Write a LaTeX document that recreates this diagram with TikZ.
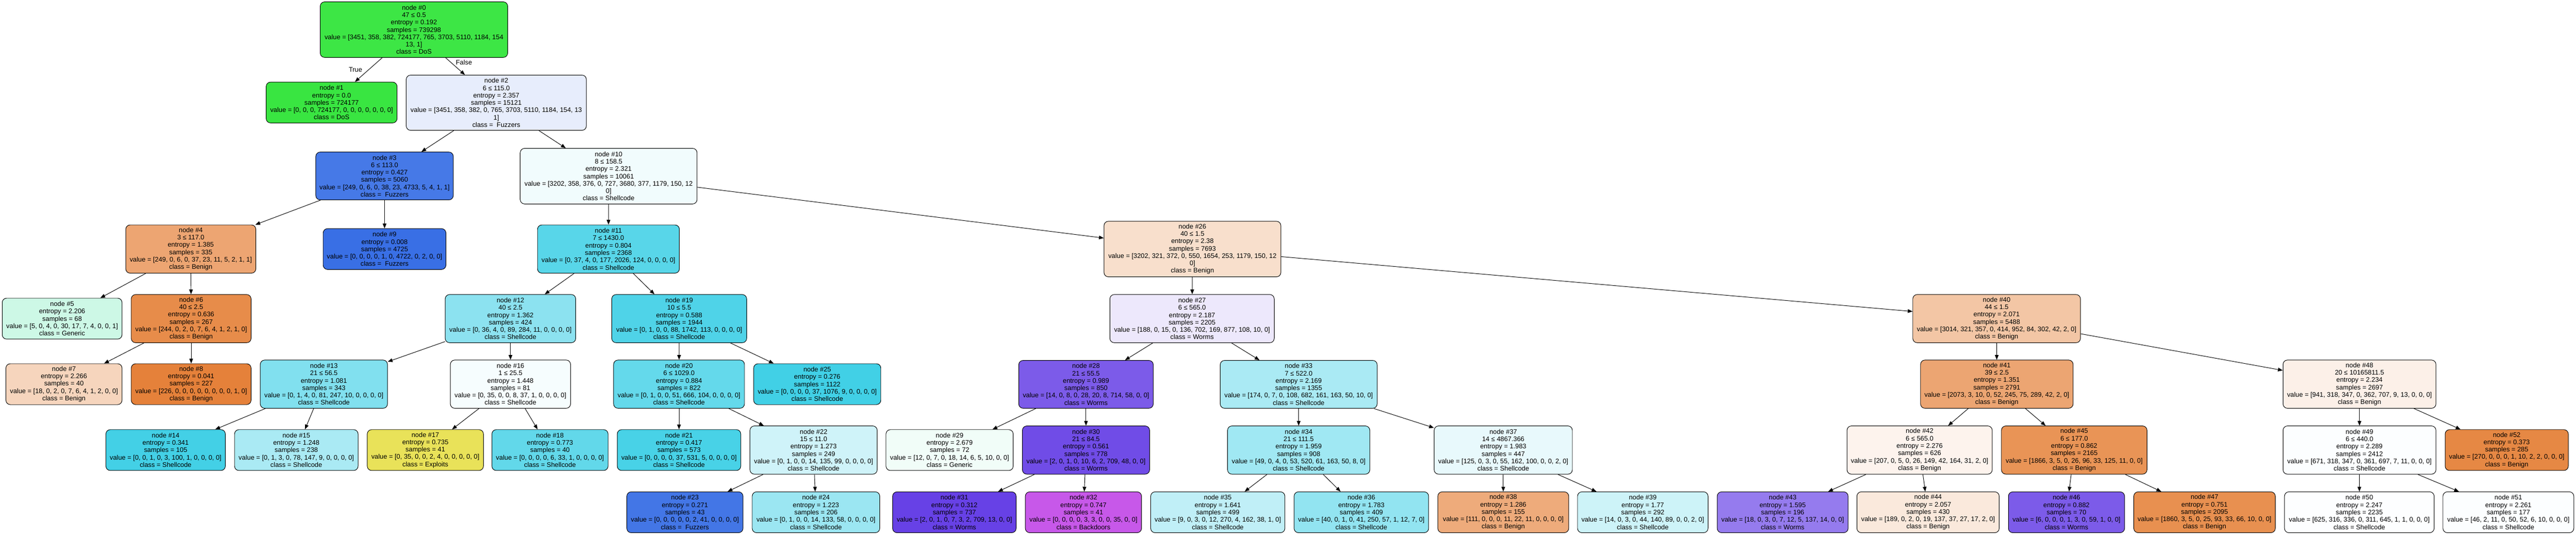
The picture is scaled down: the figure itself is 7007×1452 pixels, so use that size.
\documentclass[tikz,border=0pt]{standalone}
\usepackage{fontspec}
\setmainfont{Liberation Sans}
\usetikzlibrary{arrows.meta}
\definecolor{cBen}{RGB}{229,129,57}
\definecolor{cExp}{RGB}{229,220,57}
\definecolor{cDoS}{RGB}{57,229,65}
\definecolor{cGen}{RGB}{57,229,157}
\definecolor{cShe}{RGB}{57,206,229}
\definecolor{cFuz}{RGB}{57,111,229}
\definecolor{cWor}{RGB}{97,57,229}
\definecolor{cBac}{RGB}{189,57,229}
\newcommand\treenode[7]{\node[tbox, minimum width={#4*0.5pt}, minimum height={#5*0.5pt}, fill={#6}] (n#1) at (#2,#3) {#7};}
\begin{document}
\begin{tikzpicture}[x=0.5pt,y=-0.5pt,
  tbox/.style={draw=black, line width=0.67pt, rounded corners=6pt, inner sep=0pt, align=center, font=\fontsize{9}{10}\selectfont},
  edge/.style={draw=black, line width=0.67pt, -{Triangle[length=6.5pt,width=5pt]}},
  elab/.style={font=\fontsize{9}{10}\selectfont, inner sep=0pt}]
\fill[white] (0,0) rectangle (7007,1452);
\useasboundingbox (0,0) rectangle (7007,1452);

\treenode{0}{1126}{80.5}{510}{151}{cDoS!97.9!white}{node \#0\\47 ≤ 0.5\\entropy = 0.192\\samples = 739298\\value = [3451, 358, 382, 724177, 765, 3703, 5110, 1184, 154\\13, 1]\\class = DoS}
\treenode{1}{902}{278.5}{356}{111}{cDoS}{node \#1\\entropy = 0.0\\samples = 724177\\value = [0, 0, 0, 724177, 0, 0, 0, 0, 0, 0, 0]\\class = DoS}
\treenode{2}{1350}{279}{490}{150}{cFuz!12.3!white}{node \#2\\6 ≤ 115.0\\entropy = 2.357\\samples = 15121\\value = [3451, 358, 382, 0, 765, 3703, 5110, 1184, 154, 13\\1]\\class = \ Fuzzers}
\treenode{3}{1046}{478}{374}{130}{cFuz!93.2!white}{node \#3\\6 ≤ 113.0\\entropy = 0.427\\samples = 5060\\value = [249, 0, 6, 0, 38, 23, 4733, 5, 4, 1, 1]\\class = \ Fuzzers}
\treenode{4}{519}{676.5}{354}{131}{cBen!71.1!white}{node \#4\\3 ≤ 117.0\\entropy = 1.385\\samples = 335\\value = [249, 0, 6, 0, 37, 23, 11, 5, 2, 1, 1]\\class = Benign}
\treenode{5}{169}{865.5}{326}{111}{cGen!25.5!white}{node \#5\\entropy = 2.206\\samples = 68\\value = [5, 0, 4, 0, 30, 17, 7, 4, 0, 0, 1]\\class = Generic}
\treenode{6}{520}{865.5}{326}{131}{cBen!91.2!white}{node \#6\\40 ≤ 2.5\\entropy = 0.636\\samples = 267\\value = [244, 0, 2, 0, 7, 6, 4, 1, 2, 1, 0]\\class = Benign}
\treenode{7}{174}{1043.5}{316}{111}{cBen!33.3!white}{node \#7\\entropy = 2.266\\samples = 40\\value = [18, 0, 2, 0, 7, 6, 4, 1, 2, 0, 0]\\class = Benign}
\treenode{8}{520}{1043.5}{326}{111}{cBen!99.6!white}{node \#8\\entropy = 0.041\\samples = 227\\value = [226, 0, 0, 0, 0, 0, 0, 0, 0, 1, 0]\\class = Benign}
\treenode{9}{1046}{676.5}{334}{111}{cFuz!99.9!white}{node \#9\\entropy = 0.008\\samples = 4725\\value = [0, 0, 0, 0, 1, 0, 4722, 0, 2, 0, 0]\\class = \ Fuzzers}
\treenode{10}{1655.5}{478.5}{481}{151}{cShe!7!white}{node \#10\\8 ≤ 158.5\\entropy = 2.321\\samples = 10061\\value = [3202, 358, 376, 0, 727, 3680, 377, 1179, 150, 12\\0]\\class = Shellcode}
\treenode{11}{1655}{676.5}{386}{131}{cShe!84.4!white}{node \#11\\7 ≤ 1430.0\\entropy = 0.804\\samples = 2368\\value = [0, 37, 4, 0, 177, 2026, 124, 0, 0, 0, 0]\\class = Shellcode}
\treenode{12}{1388.5}{865.5}{355}{131}{cShe!58.2!white}{node \#12\\40 ≤ 2.5\\entropy = 1.362\\samples = 424\\value = [0, 36, 4, 0, 89, 284, 11, 0, 0, 0, 0]\\class = Shellcode}
\treenode{13}{881}{1043.5}{346}{131}{cShe!63.4!white}{node \#13\\21 ≤ 56.5\\entropy = 1.081\\samples = 343\\value = [0, 1, 4, 0, 81, 247, 10, 0, 0, 0, 0]\\class = Shellcode}
\treenode{14}{450.5}{1222.5}{325}{111}{cShe!95.1!white}{node \#14\\entropy = 0.341\\samples = 105\\value = [0, 0, 1, 0, 3, 100, 1, 0, 0, 0, 0]\\class = Shellcode}
\treenode{15}{806}{1222.5}{336}{111}{cShe!43.1!white}{node \#15\\entropy = 1.248\\samples = 238\\value = [0, 1, 3, 0, 78, 147, 9, 0, 0, 0, 0]\\class = Shellcode}
\treenode{16}{1388.5}{1043.5}{327}{131}{cShe!4.5!white}{node \#16\\1 ≤ 25.5\\entropy = 1.448\\samples = 81\\value = [0, 35, 0, 0, 8, 37, 1, 0, 0, 0, 0]\\class = Shellcode}
\treenode{17}{1157}{1222.5}{316}{111}{cExp!83.8!white}{node \#17\\entropy = 0.735\\samples = 41\\value = [0, 35, 0, 0, 2, 4, 0, 0, 0, 0, 0]\\class = Exploits}
\treenode{18}{1496}{1222.5}{316}{111}{cShe!79.4!white}{node \#18\\entropy = 0.773\\samples = 40\\value = [0, 0, 0, 0, 6, 33, 1, 0, 0, 0, 0]\\class = Shellcode}
\treenode{19}{1847.5}{865.5}{367}{131}{cShe!89!white}{node \#19\\10 ≤ 5.5\\entropy = 0.588\\samples = 1944\\value = [0, 1, 0, 0, 88, 1742, 113, 0, 0, 0, 0]\\class = Shellcode}
\treenode{20}{1847}{1043.5}{356}{131}{cShe!78.3!white}{node \#20\\6 ≤ 1029.0\\entropy = 0.884\\samples = 822\\value = [0, 1, 0, 0, 51, 666, 104, 0, 0, 0, 0]\\class = Shellcode}
\treenode{21}{1847}{1222.5}{336}{111}{cShe!92.2!white}{node \#21\\entropy = 0.417\\samples = 573\\value = [0, 0, 0, 0, 37, 531, 5, 0, 0, 0, 0]\\class = Shellcode}
\treenode{22}{2213}{1222.5}{346}{131}{cShe!24!white}{node \#22\\15 ≤ 11.0\\entropy = 1.273\\samples = 249\\value = [0, 1, 0, 0, 14, 135, 99, 0, 0, 0, 0]\\class = Shellcode}
\treenode{23}{1863}{1391.5}{316}{111}{cFuz!95.1!white}{node \#23\\entropy = 0.271\\samples = 43\\value = [0, 0, 0, 0, 0, 2, 41, 0, 0, 0, 0]\\class = \ Fuzzers}
\treenode{24}{2219.5}{1391.5}{347}{111}{cShe!50.7!white}{node \#24\\entropy = 1.223\\samples = 206\\value = [0, 1, 0, 0, 14, 133, 58, 0, 0, 0, 0]\\class = Shellcode}
\treenode{25}{2223}{1043.5}{346}{111}{cShe!95.8!white}{node \#25\\entropy = 0.276\\samples = 1122\\value = [0, 0, 0, 0, 37, 1076, 9, 0, 0, 0, 0]\\class = Shellcode}
\treenode{26}{3243.5}{676.5}{481}{151}{cBen!25.6!white}{node \#26\\40 ≤ 1.5\\entropy = 2.38\\samples = 7693\\value = [3202, 321, 372, 0, 550, 1654, 253, 1179, 150, 12\\0]\\class = Benign}
\treenode{27}{3242.5}{865.5}{447}{131}{cWor!11.6!white}{node \#27\\6 ≤ 565.0\\entropy = 2.187\\samples = 2205\\value = [188, 0, 15, 0, 136, 702, 169, 877, 108, 10, 0]\\class = Worms}
\treenode{28}{2954}{1044}{366}{130}{cWor!82.8!white}{node \#28\\21 ≤ 55.5\\entropy = 0.989\\samples = 850\\value = [14, 0, 8, 0, 28, 20, 8, 714, 58, 0, 0]\\class = Worms}
\treenode{29}{2583}{1222.5}{346}{111}{cGen!6.9!white}{node \#29\\entropy = 2.679\\samples = 72\\value = [12, 0, 7, 0, 18, 14, 6, 5, 10, 0, 0]\\class = Generic}
\treenode{30}{2954}{1222.5}{346}{131}{cWor!90.5!white}{node \#30\\21 ≤ 84.5\\entropy = 0.561\\samples = 778\\value = [2, 0, 1, 0, 10, 6, 2, 709, 48, 0, 0]\\class = Worms}
\treenode{31}{2596}{1391.5}{336}{111}{cWor!96.1!white}{node \#31\\entropy = 0.312\\samples = 737\\value = [2, 0, 1, 0, 7, 3, 2, 709, 13, 0, 0]\\class = Worms}
\treenode{32}{2947}{1391.5}{316}{111}{cBac!84.2!white}{node \#32\\entropy = 0.747\\samples = 41\\value = [0, 0, 0, 0, 3, 3, 0, 0, 35, 0, 0]\\class = Backdoors}
\treenode{33}{3532.5}{1044}{427}{130}{cShe!43!white}{node \#33\\7 ≤ 522.0\\entropy = 2.169\\samples = 1355\\value = [174, 0, 7, 0, 108, 682, 161, 163, 50, 10, 0]\\class = Shellcode}
\treenode{34}{3532.5}{1222.5}{387}{131}{cShe!47.9!white}{node \#34\\21 ≤ 111.5\\entropy = 1.959\\samples = 908\\value = [49, 0, 4, 0, 53, 520, 61, 163, 50, 8, 0]\\class = Shellcode}
\treenode{35}{3312.5}{1391.5}{365}{111}{cShe!32!white}{node \#35\\entropy = 1.641\\samples = 499\\value = [9, 0, 3, 0, 12, 270, 4, 162, 38, 1, 0]\\class = Shellcode}
\treenode{36}{3703}{1391.5}{366}{111}{cShe!54.8!white}{node \#36\\entropy = 1.783\\samples = 409\\value = [40, 0, 1, 0, 41, 250, 57, 1, 12, 7, 0]\\class = Shellcode}
\treenode{37}{4089}{1222.5}{376}{131}{cShe!11.5!white}{node \#37\\14 ≤ 4867.366\\entropy = 1.983\\samples = 447\\value = [125, 0, 3, 0, 55, 162, 100, 0, 0, 2, 0]\\class = Shellcode}
\treenode{38}{4089}{1391.5}{356}{111}{cBen!66.9!white}{node \#38\\entropy = 1.286\\samples = 155\\value = [111, 0, 0, 0, 11, 22, 11, 0, 0, 0, 0]\\class = Benign}
\treenode{39}{4468.5}{1391.5}{355}{111}{cShe!25.1!white}{node \#39\\entropy = 1.77\\samples = 292\\value = [14, 0, 3, 0, 44, 140, 89, 0, 0, 2, 0]\\class = Shellcode}
\treenode{40}{5431}{865.5}{456}{131}{cBen!45.5!white}{node \#40\\44 ≤ 1.5\\entropy = 2.071\\samples = 5488\\value = [3014, 321, 357, 0, 414, 952, 84, 302, 42, 2, 0]\\class = Benign}
\treenode{41}{5431.5}{1043.5}{415}{131}{cBen!71.3!white}{node \#41\\39 ≤ 2.5\\entropy = 1.351\\samples = 2791\\value = [2073, 3, 10, 0, 52, 245, 75, 289, 42, 2, 0]\\class = Benign}
\treenode{42}{5221.5}{1222.5}{395}{131}{cBen!9.3!white}{node \#42\\6 ≤ 565.0\\entropy = 2.276\\samples = 626\\value = [207, 0, 5, 0, 26, 149, 42, 164, 31, 2, 0]\\class = Benign}
\treenode{43}{4849}{1391.5}{356}{111}{cWor!66.9!white}{node \#43\\entropy = 1.595\\samples = 196\\value = [18, 0, 3, 0, 7, 12, 5, 137, 14, 0, 0]\\class = Worms}
\treenode{44}{5244.5}{1391.5}{387}{111}{cBen!17.7!white}{node \#44\\entropy = 2.057\\samples = 430\\value = [189, 0, 2, 0, 19, 137, 37, 27, 17, 2, 0]\\class = Benign}
\treenode{45}{5642}{1222.5}{396}{131}{cBen!85.3!white}{node \#45\\6 ≤ 177.0\\entropy = 0.862\\samples = 2165\\value = [1866, 3, 5, 0, 26, 96, 33, 125, 11, 0, 0]\\class = Benign}
\treenode{46}{5621}{1391.5}{316}{111}{cWor!82.8!white}{node \#46\\entropy = 0.882\\samples = 70\\value = [6, 0, 0, 0, 1, 3, 0, 59, 1, 0, 0]\\class = Worms}
\treenode{47}{5996.5}{1391.5}{385}{111}{cBen!88.3!white}{node \#47\\entropy = 0.751\\samples = 2095\\value = [1860, 3, 5, 0, 25, 93, 33, 66, 10, 0, 0]\\class = Benign}
\treenode{48}{6418}{1043.5}{416}{131}{cBen!11.8!white}{node \#48\\20 ≤ 10165811.5\\entropy = 2.234\\samples = 2697\\value = [941, 318, 347, 0, 362, 707, 9, 13, 0, 0, 0]\\class = Benign}
\treenode{49}{6418}{1222.5}{416}{131}{cShe!1.5!white}{node \#49\\6 ≤ 440.0\\entropy = 2.289\\samples = 2412\\value = [671, 318, 347, 0, 361, 697, 7, 11, 0, 0, 0]\\class = Shellcode}
\treenode{50}{6417.5}{1391.5}{407}{111}{cShe!1.2!white}{node \#50\\entropy = 2.247\\samples = 2235\\value = [625, 316, 336, 0, 311, 645, 1, 1, 0, 0, 0]\\class = Shellcode}
\treenode{51}{6823}{1391.5}{356}{111}{cShe!1.6!white}{node \#51\\entropy = 2.261\\samples = 177\\value = [46, 2, 11, 0, 50, 52, 6, 10, 0, 0, 0]\\class = Shellcode}
\treenode{52}{6818.5}{1222.5}{335}{111}{cBen!94.5!white}{node \#52\\entropy = 0.373\\samples = 285\\value = [270, 0, 0, 0, 1, 10, 2, 2, 0, 0, 0]\\class = Benign}

\foreach \p/\c in {0/1,0/2,2/3,2/10,3/4,3/9,4/5,4/6,6/7,6/8,10/11,10/26,11/12,11/19,12/13,12/16,13/14,13/15,16/17,16/18,19/20,19/25,20/21,20/22,22/23,22/24,26/27,26/40,27/28,27/33,28/29,28/30,30/31,30/32,33/34,33/37,34/35,34/36,37/38,37/39,40/41,40/48,41/42,41/45,42/43,42/44,45/46,45/47,48/49,48/52,49/50,49/51}
  \draw[edge] (n\p) -- (n\c);

\node[elab] (ltrue) at (967,190) {True};
\node[elab] (lfalse) at (1262,169) {False};
\end{tikzpicture}
\end{document}
